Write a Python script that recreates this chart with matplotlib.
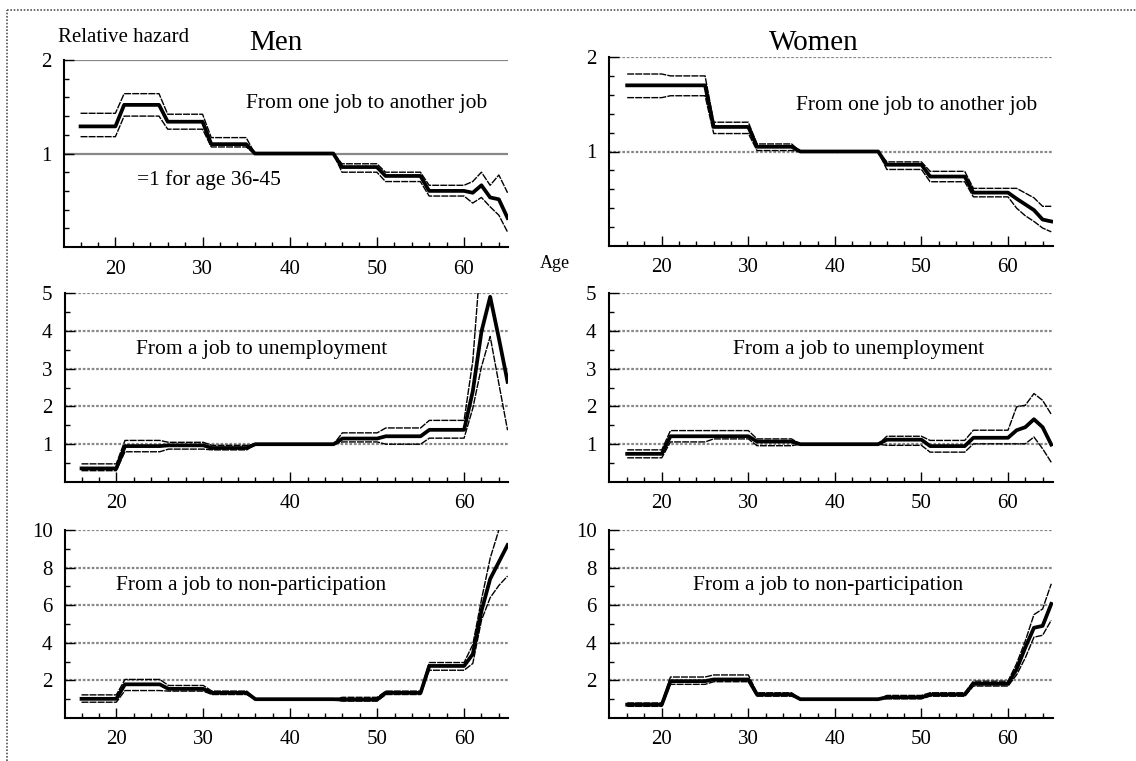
import numpy as np
import matplotlib
matplotlib.use("Agg")
import matplotlib.pyplot as plt
from matplotlib.lines import Line2D
from matplotlib.ticker import FixedLocator

plt.rcParams['font.family'] = ['Liberation Serif', 'DejaVu Serif']

# age groups: 16-20, 21-25, 26-30, 31-35, 36-45, 46-50, 51-55, 56-60, 61, 62, 63, 64, 65
group_len = [5, 5, 5, 5, 10, 5, 5, 5, 1, 1, 1, 1, 1]
ages = np.arange(16, 66)

# relative hazards (estimate, upper bound, lower bound) per age group
men_jj = [1.29, 1.52, 1.34, 1.10, 1.00, 0.855, 0.76, 0.60, 0.58, 0.66, 0.53, 0.51, 0.31]
men_jj_hi = [1.43, 1.64, 1.42, 1.17, 1.00, 0.89, 0.80, 0.66, 0.70, 0.80, 0.66, 0.77, 0.58]
men_jj_lo = [1.18, 1.40, 1.26, 1.07, 1.00, 0.80, 0.70, 0.545, 0.47, 0.53, 0.43, 0.34, 0.16]

women_jj = [1.70, 1.70, 1.26, 1.05, 1.00, 0.86, 0.735, 0.565, 0.50, 0.44, 0.38, 0.28, 0.26]
women_jj_hi = [1.82, 1.80, 1.31, 1.08, 1.00, 0.89, 0.79, 0.61, 0.61, 0.56, 0.51, 0.42, 0.42]
women_jj_lo = [1.57, 1.59, 1.19, 1.01, 1.00, 0.81, 0.68, 0.52, 0.40, 0.32, 0.26, 0.19, 0.15]

men_ju = [0.36, 0.95, 0.97, 0.90, 1.00, 1.15, 1.21, 1.38, 2.4, 3.98, 4.9, 3.8, 2.65]
men_ju_hi = [0.48, 1.10, 1.05, 0.97, 1.00, 1.30, 1.43, 1.63, 3.2, 6.2, 6.5, 6.0, 5.2]
men_ju_lo = [0.30, 0.80, 0.87, 0.85, 1.00, 1.06, 1.00, 1.16, 1.95, 3.05, 3.85, 2.6, 1.37]

women_ju = [0.745, 1.21, 1.21, 1.07, 1.00, 1.12, 0.95, 1.17, 1.37, 1.45, 1.66, 1.45, 0.99]
women_ju_hi = [0.85, 1.36, 1.36, 1.14, 1.00, 1.21, 1.10, 1.37, 1.99, 2.03, 2.34, 2.16, 1.79]
women_ju_lo = [0.64, 1.06, 1.14, 0.96, 1.00, 0.97, 0.79, 1.01, 1.01, 1.01, 1.19, 0.88, 0.52]

men_jn = [1.02, 1.79, 1.55, 1.34, 1.00, 0.98, 1.34, 2.77, 3.4, 5.7, 7.4, 8.3, 9.2]
men_jn_hi = [1.23, 2.05, 1.73, 1.43, 1.00, 1.10, 1.43, 2.95, 3.9, 6.3, 8.5, 10.0, 11.2]
men_jn_lo = [0.84, 1.46, 1.43, 1.25, 1.00, 0.90, 1.25, 2.54, 2.9, 5.2, 6.4, 7.05, 7.55]

women_jn = [0.71, 1.96, 2.05, 1.25, 1.00, 1.10, 1.25, 1.82, 2.6, 3.75, 4.8, 4.9, 6.07]
women_jn_hi = [0.80, 2.18, 2.29, 1.34, 1.00, 1.20, 1.34, 1.96, 2.9, 4.1, 5.5, 5.8, 7.14]
women_jn_lo = [0.62, 1.79, 1.93, 1.16, 1.00, 1.02, 1.16, 1.70, 2.3, 3.2, 4.3, 4.4, 5.2]


def expand(vals):
    return np.repeat(vals, group_len)


fig = plt.figure(figsize=(11.36, 7.61), dpi=100)
W, H = 1136, 761


def make_ax(l, r, t, b):
    return fig.add_axes([l / W, 1 - b / H, (r - l) / W, (b - t) / H])


def draw(ax, est, hi, lo, ylim, ymajor, yminor, xmajor, xlim, solid_grid=False):
    for y in ymajor:
        if solid_grid:
            ax.axhline(y, color="#888888", lw=1.6, zorder=1)
        else:
            ax.axhline(y, color="#888888", lw=1.6, ls=(0, (1.2, 0.8)), zorder=1)
    ax.plot(ages, expand(hi), color="black", lw=1.0, ls=(0, (5, 0.8)), zorder=3)
    ax.plot(ages, expand(lo), color="black", lw=1.0, ls=(0, (5, 0.8)), zorder=3)
    ax.plot(ages, expand(est), color="black", lw=2.7, zorder=4)
    ax.set_xlim(*xlim)
    ax.set_ylim(*ylim)
    ax.spines[["top", "right"]].set_visible(False)
    for s in ["left", "bottom"]:
        ax.spines[s].set_linewidth(1.5)
    ax.xaxis.set_major_locator(FixedLocator(xmajor))
    ax.xaxis.set_minor_locator(FixedLocator([a for a in range(16, 66, 2) if a not in xmajor]))
    ax.yaxis.set_major_locator(FixedLocator(ymajor))
    ax.yaxis.set_minor_locator(FixedLocator(yminor))
    ax.tick_params(which="both", direction="in", width=1.0)
    ax.tick_params(which="major", length=7, labelsize=15, pad=9)
    ax.tick_params(which="minor", length=3.5)
    ax.set_facecolor("none")


xl_left = (14.1, 65.05)
xl_right = (13.9, 65.2)
x10 = [20, 30, 40, 50, 60]
top_minor = [0.2, 0.4, 0.6, 0.8, 1.2, 1.4, 1.6, 1.8]
mid_minor = [0.5, 1.5, 2.5, 3.5, 4.5]
bot_minor = [1, 3, 5, 7, 9]

ax1 = make_ax(64, 508, 60, 247)
draw(ax1, men_jj, men_jj_hi, men_jj_lo, (0, 2), [1, 2], top_minor, x10, xl_left, solid_grid=True)
ax2 = make_ax(609, 1053, 57, 246)
draw(ax2, women_jj, women_jj_hi, women_jj_lo, (0, 2), [1, 2], top_minor, x10, xl_right)
ax3 = make_ax(65, 508, 293, 482)
draw(ax3, men_ju, men_ju_hi, men_ju_lo, (0, 5), [1, 2, 3, 4, 5], mid_minor, [20, 40, 60], xl_left)
ax4 = make_ax(609, 1053, 293, 482)
draw(ax4, women_ju, women_ju_hi, women_ju_lo, (0, 5), [1, 2, 3, 4, 5], mid_minor, x10, xl_right)
ax5 = make_ax(65, 508, 530, 718)
draw(ax5, men_jn, men_jn_hi, men_jn_lo, (0, 10), [2, 4, 6, 8, 10], bot_minor, x10, xl_left)
ax6 = make_ax(609, 1053, 530, 718)
draw(ax6, women_jn, women_jn_hi, women_jn_lo, (0, 10), [2, 4, 6, 8, 10], bot_minor, x10, xl_right)

# panel captions
fs = 15.5
ax1.text(48.8, 1.54, "From one job to another job", fontsize=fs, ha="center", va="center")
ax1.text(30.7, 0.72, "=1 for age 36-45", fontsize=fs, ha="center", va="center")
ax2.text(49.5, 1.49, "From one job to another job", fontsize=fs, ha="center", va="center")
ax3.text(36.7, 3.5, "From a job to unemployment", fontsize=fs, ha="center", va="center")
ax4.text(42.7, 3.5, "From a job to unemployment", fontsize=fs, ha="center", va="center")
ax5.text(35.5, 7.06, "From a job to non-participation", fontsize=fs, ha="center", va="center")
ax6.text(39.2, 7.06, "From a job to non-participation", fontsize=fs, ha="center", va="center")

fig.text(124 / W, 1 - 38 / H, "Relative hazard", fontsize=15, ha="center", va="center")
fig.text(276 / W, 1 - 43 / H, "Men", fontsize=21, ha="center", va="center")
fig.text(814 / W, 1 - 43 / H, "Women", fontsize=21, ha="center", va="center")
fig.text(555 / W, 1 - 263 / H, "Age", fontsize=13, ha="center", va="center")

# dotted frame
fig.add_artist(Line2D([7 / W, 1], [1 - 10 / H, 1 - 10 / H], transform=fig.transFigure,
                      color="#555555", lw=1.2, ls=(0, (1, 1))))
fig.add_artist(Line2D([7 / W, 7 / W], [0, 1 - 10 / H], transform=fig.transFigure,
                      color="#555555", lw=1.2, ls=(0, (1, 1))))

fig.savefig("out.png", dpi=100)
